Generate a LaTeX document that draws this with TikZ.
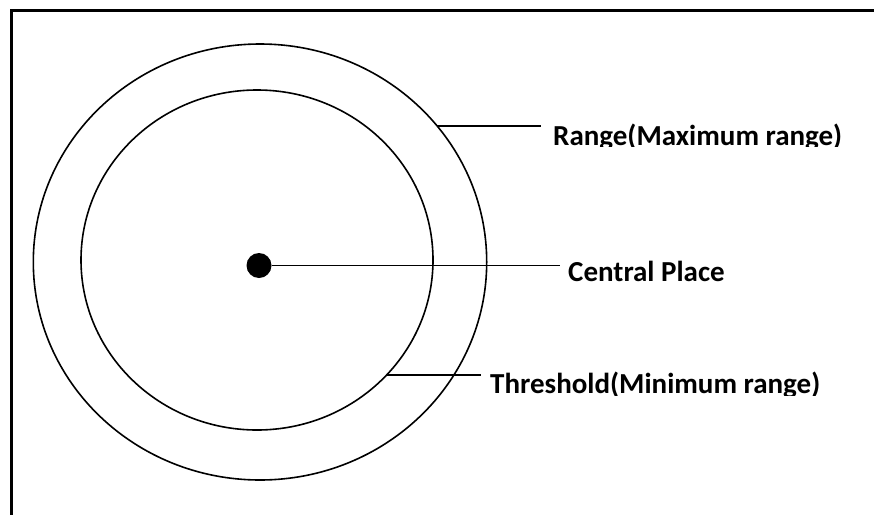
\documentclass[tikz,border=0pt]{standalone}
\usepackage{fontspec}
\setmainfont{Carlito}
\usetikzlibrary{shapes.geometric}
\begin{document}
\begin{tikzpicture}[x=1pt,y=-1pt,
  ring/.style={line width=1.6pt},
  lead/.style={line width=1.5pt},
  lbl/.style={anchor=base west,inner sep=0pt,font=\fontsize{29}{34}\selectfont\bfseries},
  frame/.style={line width=3pt}]
\useasboundingbox (0,0) rectangle (874,514);
% frame (only top and left edges visible)
\draw[frame] (11,520) -- (11,10) -- (880,10);
% rings
\node[ring,draw,ellipse,minimum width=453.4pt,minimum height=436pt,inner sep=0pt] (outer) at (260,262) {};
\node[ring,draw,ellipse,minimum width=352pt,minimum height=340pt,inner sep=0pt] (inner) at (257,260) {};
% central place
\node[circle,fill=black,minimum size=25pt,inner sep=0pt] (dot) at (259,265.5) {};
\node[lbl] (lc) at (568,281.7) {Central Place};
\coordinate (c2) at (560,265.5);
\draw[lead] (dot.east) -- (c2);
% range
\coordinate (r1) at (437,126);
\coordinate (r2) at (541,126);
\draw[lead] (r1) -- (r2);
\begin{scope}
\clip (545,90) rectangle (874,146);
\node[lbl] (lr) at (553,145.5) {Range(Maximum range)};
\end{scope}
% threshold
\coordinate (t1) at (386.6,375);
\coordinate (t2) at (481,375);
\draw[lead] (t1) -- (t2);
\begin{scope}
\clip (485,340) rectangle (874,395);
\node[lbl] (lt) at (490,393.5) {Threshold(Minimum range)};
\end{scope}
\end{tikzpicture}
\end{document}
